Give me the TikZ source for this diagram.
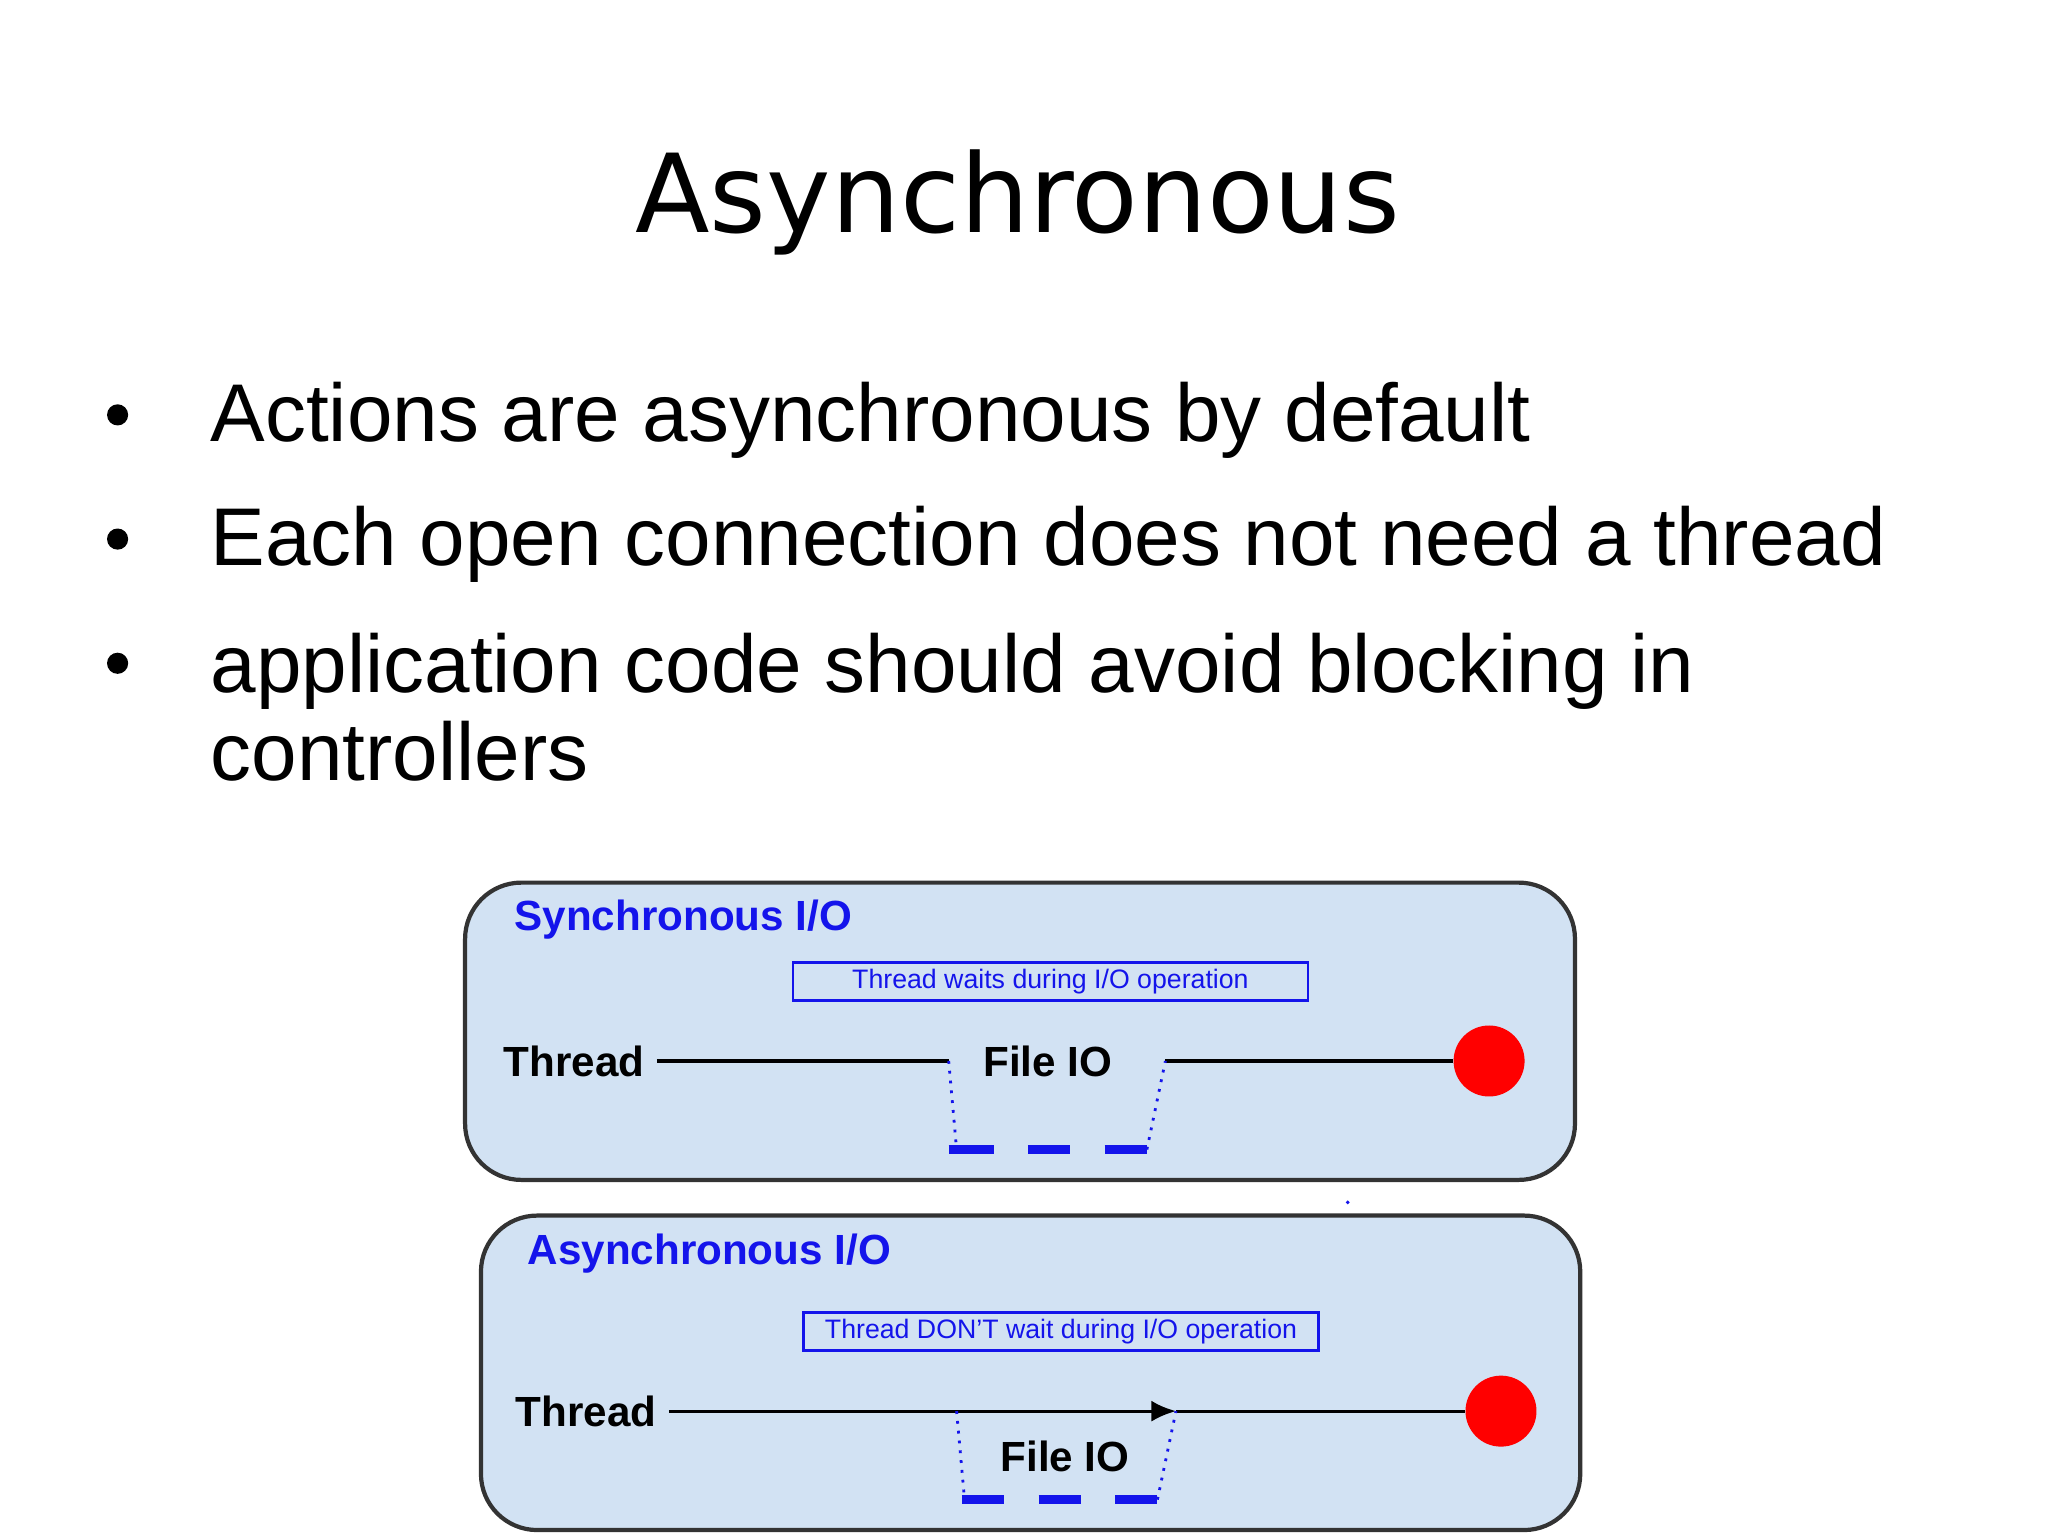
\documentclass[tikz,border=0pt]{standalone}
\usepackage{fontspec}
\setmainfont{Liberation Sans}
\newfontfamily\titlefont{DejaVu Sans}
\usetikzlibrary{arrows.meta}
\definecolor{panelblue}{RGB}{210,226,243}
\definecolor{labelblue}{RGB}{20,20,235}
\tikzset{
  panel/.style={draw=black!80,line width=1.2pt,fill=panelblue,rounded corners=16},
  paneltitle/.style={anchor=west,text=labelblue,font=\bfseries\fontsize{12}{14}\selectfont},
  notebox/.style={draw=labelblue,line width=0.8pt,text=labelblue,font=\fontsize{7.6}{9}\selectfont,minimum width=5.15cm,minimum height=0.38cm,inner sep=0pt},
  thlabel/.style={font=\bfseries\fontsize{12}{14}\selectfont},
  waitdash/.style={draw=labelblue,line width=2.6pt},
  waitdot/.style={draw=labelblue,dotted,line width=0.8pt},
  endpoint/.style={circle,fill=red,minimum size=0.71cm,inner sep=0pt},
  bullettext/.style={anchor=west,font=\fontsize{23.3}{25}\selectfont,align=left}
}
\begin{document}
\begin{tikzpicture}[x=0.013213cm,y=-0.013213cm]
  \useasboundingbox (0,0) rectangle (1550,1162);

  % heading and bullets
  \node (title) at (770,153) {\titlefont\fontsize{31}{37}\selectfont Asynchronous};
  \foreach \name/\yy/\txt in {b1/318/Actions are asynchronous by default,
                              b2/412/Each open connection does not need a thread}
    \node[bullettext] (\name) at (150,\yy) {\txt};
  \node[bullettext,anchor=north west] (b3) at (150,470) {application code should avoid blocking in\\controllers};
  \foreach \yy in {314,408,502}
    \fill (89,\yy) circle (8);

  % synchronous panel
  \draw[panel] (352,668) rectangle (1192,893);
  \node[paneltitle] (synctitle) at (380,696) {Synchronous I/O};
  \node[notebox] (syncnote) at (795,743) {Thread waits during I/O operation};
  \node[thlabel,anchor=west] (syncthread) at (372,803) {Thread};
  \node[thlabel] (syncfile) at (793,803) {File IO};
  \node[endpoint] (syncend) at (1127,803) {};
  \coordinate (s1) at (718,803);
  \coordinate (s2) at (724,870);
  \coordinate (s3) at (868,870);
  \coordinate (s4) at (882,803);
  \draw[line width=0.9pt] (syncthread) -- (s1);
  \draw[line width=0.9pt] (s4) -- (syncend);
  \draw[waitdot] (s1) -- (s2);
  \draw[waitdot] (s3) -- (s4);
  \foreach \xa/\xb in {718/752,778/810,836/868}
    \draw[waitdash] (\xa,870) -- (\xb,870);

  \fill[labelblue] (1020,910) circle (1.5);

  % asynchronous panel
  \draw[panel] (364,920) rectangle (1196,1158);
  \node[paneltitle] (asynctitle) at (390,949) {Asynchronous I/O};
  \node[notebox] (asyncnote) at (803,1008) {Thread DON'T wait during I/O operation};
  \node[thlabel,anchor=west] (asyncthread) at (381,1068) {Thread};
  \node[thlabel] (asyncfile) at (806,1102) {File IO};
  \node[endpoint] (asyncend) at (1136,1068) {};
  \coordinate (a1) at (724,1068);
  \coordinate (a2) at (730,1135);
  \coordinate (a3) at (876,1135);
  \coordinate (a4) at (890,1068);
  \draw[line width=0.9pt,-{Latex[length=7pt,width=6pt]}] (asyncthread) -- (a4);
  \draw[line width=0.9pt] (a4) -- (asyncend);
  \draw[waitdot] (a1) -- (a2);
  \draw[waitdot] (a3) -- (a4);
  \foreach \xa/\xb in {728/760,786/818,844/876}
    \draw[waitdash] (\xa,1135) -- (\xb,1135);
\end{tikzpicture}
\end{document}
